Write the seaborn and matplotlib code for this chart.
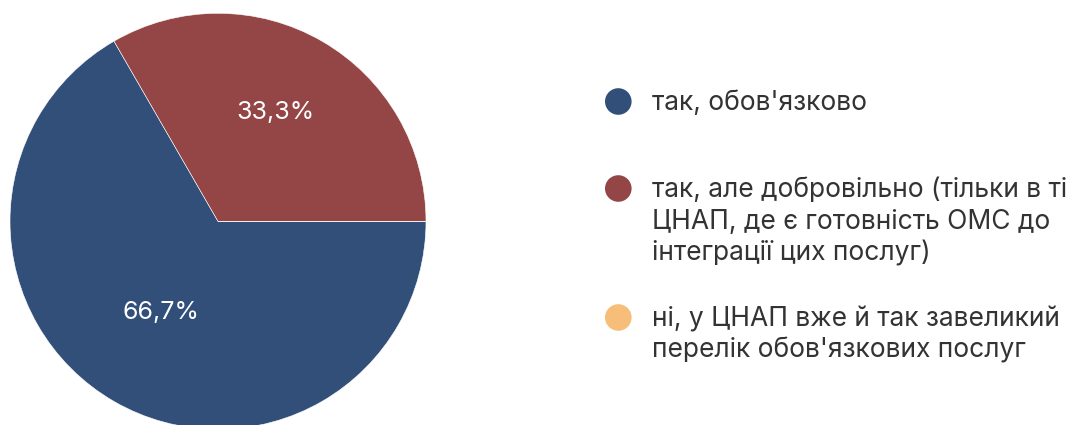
import seaborn as sns
import matplotlib.pyplot as plt
from matplotlib.patches import Circle

labels = [
    "так, обов'язково",
    "так, але добровільно (тільки в ті\nЦНАП, де є готовність ОМС до\nінтеграції цих послуг)",
    "ні, у ЦНАП вже й так завеликий\nперелік обов'язкових послуг",
]
values = [2, 1, 0]
colors = ["#324f7a", "#944545", "#f7be7a"]

sns.set_style("white")
plt.rcParams['font.family'] = ['Inter', 'DejaVu Sans']

W, H = 1077, 425
fig = plt.figure(figsize=(W / 100, H / 100), dpi=100)

# pie axes: centre (218, 221) px, radius 208 px
cx, cy, r = 218, 221.3, 208
ax = fig.add_axes([(cx - r) / W, (H - cy - r) / H, 2 * r / W, 2 * r / H])


def pct(p):
    return f"{p:.1f}%".replace(".", ",") if p > 0 else ""


wedges, texts, autotexts = ax.pie(
    values, colors=colors, startangle=0, counterclock=False,
    autopct=pct, pctdistance=0.553,
    wedgeprops=dict(edgecolor="white", linewidth=0.4),
    textprops=dict(color="white", fontsize=18),
)
for t in autotexts:
    x, y = t.get_position()
    t.set_position((x, y + 0.042))
ax.set_xlim(-1, 1)
ax.set_ylim(-1, 1)
ax.set_aspect("equal")
ax.axis("off")

# legend drawn by hand (uneven spacing in the original)
first_baselines = [110, 197, 326]
pitch = 31.8
for lab, col, b in zip(labels, colors, first_baselines):
    fig.patches.append(Circle((618.3, H - (b - 8.5)), 13.3, transform=None,
                              facecolor=col, edgecolor="none"))
    for i, line in enumerate(lab.split("\n")):
        fig.text(651.5 / W, (H - (b + i * pitch)) / H, line, fontsize=19,
                 color="#333333", va="baseline", ha="left")

fig.savefig("out.png", dpi=100)
